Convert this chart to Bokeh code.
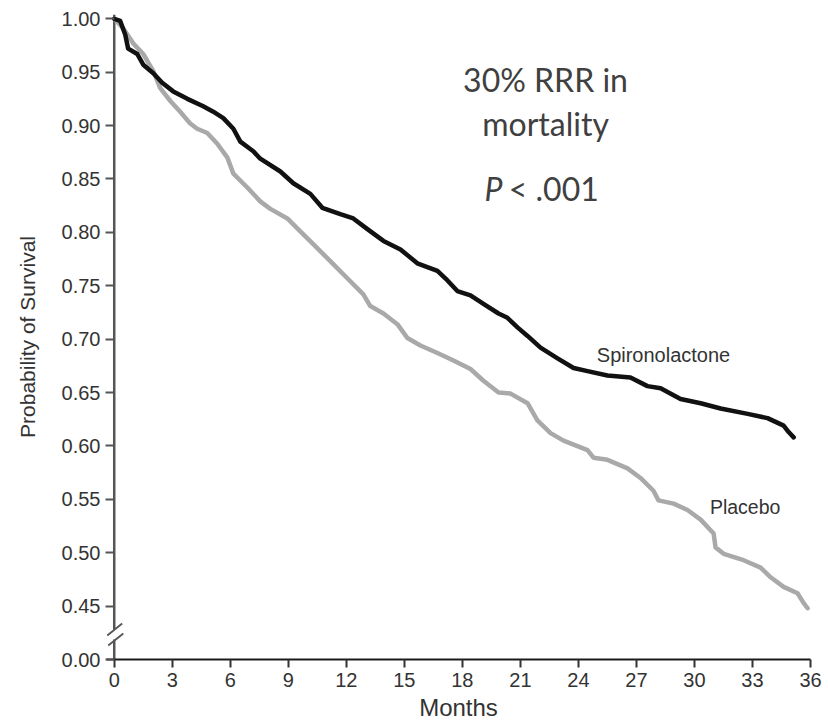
from bokeh.plotting import figure
from bokeh.models import Range1d, FixedTicker, Label
from bokeh.embed import file_html
from bokeh.resources import INLINE

# ---- data ----
spiro_months = [0, 0.31, 0.57, 0.72, 1.19, 1.50, 2.02, 2.48, 3.05, 3.78,
                4.60, 5.12, 5.64, 6.16, 6.52, 7.19, 7.55, 8.59, 9.26, 10.14,
                10.76, 11.69, 12.36, 13.09, 13.92, 14.80, 15.67, 16.71, 17.23, 17.74,
                18.42, 19.09, 19.87, 20.33, 20.85, 21.37, 22.04, 22.92, 23.75, 24.47,
                25.50, 26.69, 27.57, 28.25, 29.28, 30.32, 31.35, 32.75, 33.78, 34.61,
                34.87, 35.13]
spiro_surv = [1.000, 0.998, 0.985, 0.972, 0.967, 0.957, 0.949, 0.940, 0.932, 0.925,
              0.918, 0.913, 0.907, 0.897, 0.885, 0.876, 0.869, 0.857, 0.846, 0.836,
              0.823, 0.817, 0.813, 0.803, 0.792, 0.784, 0.771, 0.764, 0.755, 0.745,
              0.741, 0.733, 0.724, 0.720, 0.711, 0.703, 0.692, 0.682, 0.673, 0.670,
              0.666, 0.664, 0.656, 0.654, 0.644, 0.640, 0.635, 0.630, 0.626, 0.619,
              0.613, 0.608]

placebo_months = [0, 0.47, 0.98, 1.50, 2.02, 2.38, 2.90, 3.41, 3.93, 4.29,
                  4.81, 5.33, 5.85, 6.16, 6.88, 7.55, 8.07, 8.95, 9.62, 10.29,
                  11.17, 12.05, 12.88, 13.24, 13.92, 14.64, 15.16, 15.83, 16.71, 17.54,
                  18.42, 19.09, 19.87, 20.49, 21.37, 21.88, 22.56, 23.23, 24.47, 24.78,
                  25.50, 26.54, 27.21, 27.88, 28.14, 28.92, 29.64, 30.32, 30.99, 31.09,
                  31.51, 32.54, 33.42, 33.94, 34.61, 35.33, 35.64, 35.85]
placebo_surv = [1.000, 0.991, 0.977, 0.967, 0.951, 0.935, 0.923, 0.913, 0.902, 0.897,
                0.893, 0.883, 0.870, 0.855, 0.842, 0.829, 0.822, 0.813, 0.801, 0.789,
                0.773, 0.757, 0.742, 0.731, 0.724, 0.714, 0.701, 0.694, 0.687, 0.680,
                0.672, 0.661, 0.650, 0.649, 0.640, 0.624, 0.612, 0.605, 0.596, 0.589,
                0.587, 0.579, 0.570, 0.558, 0.549, 0.546, 0.540, 0.531, 0.518, 0.505,
                0.499, 0.493, 0.486, 0.477, 0.468, 0.462, 0.453, 0.448]

x_ticks = [0, 3, 6, 9, 12, 15, 18, 21, 24, 27, 30, 33, 36]
x_tick_labels = ["0", "3", "6", "9", "12", "15", "18", "21", "24", "27", "30", "33", "36"]
# broken axis: the lowest tick position stands for 0.00
y_ticks = [0.40, 0.45, 0.50, 0.55, 0.60, 0.65, 0.70, 0.75, 0.80, 0.85, 0.90, 0.95, 1.00]
y_tick_labels = ["0.00", "0.45", "0.50", "0.55", "0.60", "0.65", "0.70", "0.75",
                 "0.80", "0.85", "0.90", "0.95", "1.00"]

series_names = ["Spironolactone", "Placebo"]
annotation_lines = ["30% RRR in", "mortality"]
p_text = ["P", "< .001"]

# ---- figure ----
FONT = "Liberation Sans"
p = figure(width=828, height=727, output_backend="svg", toolbar_location=None,
           x_range=Range1d(-0.4, 36), y_range=Range1d(0.40, 1.004),
           min_border_left=106, min_border_right=18, min_border_top=14,
           min_border_bottom=68)
p.grid.visible = False
p.outline_line_color = None
p.background_fill_color = "white"
p.border_fill_color = "white"

xa = p.xaxis[0]
xa.ticker = FixedTicker(ticks=x_ticks)
xa.major_label_overrides = {t: l for t, l in zip(x_ticks, x_tick_labels)}
xa.axis_line_color = "#1a1a1a"
xa.axis_line_width = 2
xa.major_tick_line_color = "#333333"
xa.major_tick_line_width = 2
xa.major_tick_out = 8
xa.major_tick_in = 0
xa.minor_tick_out = 0
xa.minor_tick_in = 0
xa.major_label_standoff = 5
xa.major_label_text_font = FONT
xa.major_label_text_font_size = "20px"
xa.major_label_text_color = "#333333"
xa.axis_label = "Months"
xa.axis_label_text_font = FONT
xa.axis_label_text_font_size = "24px"
xa.axis_label_text_font_style = "normal"
xa.axis_label_text_color = "#333333"
xa.axis_label_standoff = 4

ya = p.yaxis[0]
ya.ticker = FixedTicker(ticks=y_ticks)
ya.major_label_overrides = {t: l for t, l in zip(y_ticks, y_tick_labels)}
ya.axis_line_color = None
ya.major_tick_line_color = "#555555"
ya.major_tick_line_width = 2
ya.major_tick_in = 8
ya.major_tick_out = 1
ya.minor_tick_out = 0
ya.minor_tick_in = 0
ya.major_label_standoff = 5
ya.major_label_text_font = FONT
ya.major_label_text_font_size = "20px"
ya.major_label_text_color = "#333333"
ya.axis_label = "Probability of Survival"
ya.axis_label_text_font = FONT
ya.axis_label_text_font_size = "21px"
ya.axis_label_text_font_style = "normal"
ya.axis_label_text_color = "#333333"
ya.axis_label_standoff = 20

# y axis line drawn with a break
BREAK_LO, BREAK_HI = 0.4187, 0.4281
p.segment(x0=[0, 0], y0=[0.40, BREAK_HI], x1=[0, 0], y1=[BREAK_LO, 1.004],
          line_color="#555555", line_width=2.5)
p.segment(x0=[-0.36, -0.31], y0=[BREAK_HI - 0.0056, BREAK_LO - 0.0056],
          x1=[0.41, 0.47], y1=[BREAK_HI + 0.0056, BREAK_LO + 0.0056],
          line_color="#555555", line_width=1.8)

# curves
p.line(placebo_months, placebo_surv, line_color="#a9a9a9", line_width=4.5,
       line_join="round", line_cap="round")
p.line(spiro_months, spiro_surv, line_color="#111111", line_width=4.5,
       line_join="round", line_cap="round")

# series labels
p.add_layout(Label(x=24.95, y=0.6854, text=series_names[0], text_font=FONT,
                   text_font_size="20px", text_color="#333333",
                   text_align="left", text_baseline="middle"))
p.add_layout(Label(x=30.8, y=0.5424, text=series_names[1], text_font=FONT,
                   text_font_size="19.5px", text_color="#333333",
                   text_align="left", text_baseline="middle"))

# annotation
ANN_FONT = "Lato"
p.add_layout(Label(x=22.3, y=0.9434, text=annotation_lines[0], text_font=ANN_FONT,
                   text_font_size="32px", text_color="#404040",
                   text_align="center", text_baseline="middle"))
p.add_layout(Label(x=22.3, y=0.9022, text=annotation_lines[1], text_font=ANN_FONT,
                   text_font_size="32px", text_color="#404040",
                   text_align="center", text_baseline="middle"))
p.add_layout(Label(x=19.15, y=0.8415, text=p_text[0], text_font=ANN_FONT,
                   text_font_size="32px", text_font_style="italic", text_color="#404040",
                   text_align="left", text_baseline="middle"))
p.add_layout(Label(x=20.4, y=0.8415, text=p_text[1], text_font=ANN_FONT,
                   text_font_size="32px", text_color="#404040",
                   text_align="left", text_baseline="middle"))

open("out.html", "w").write(file_html(p, INLINE))
